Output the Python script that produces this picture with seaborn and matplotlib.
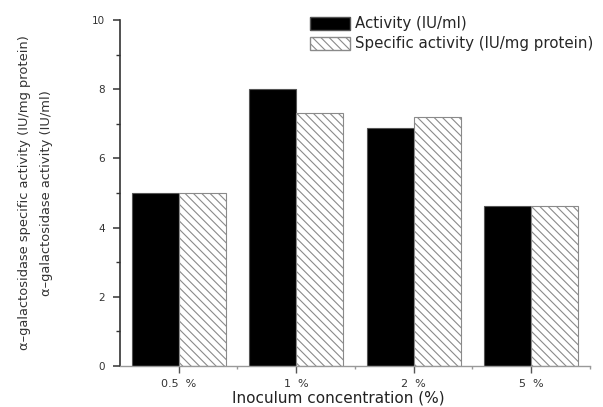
import matplotlib
matplotlib.use("Agg")
import matplotlib.pyplot as plt
import seaborn as sns
import pandas as pd
from matplotlib.ticker import MultipleLocator, FixedLocator
from matplotlib.patches import Patch

categories = ["0.5  %", "1  %", "2  %", "5  %"]
activity = [5.0, 8.0, 6.87, 4.62]
specific_activity = [5.0, 7.32, 7.2, 4.62]
series_names = ["Activity (IU/ml)", "Specific activity (IU/mg protein)"]

df = pd.DataFrame({
    "conc": categories * 2,
    "value": activity + specific_activity,
    "series": [series_names[0]] * 4 + [series_names[1]] * 4,
})

sns.set_style("white")
plt.rcParams["font.family"] = ["DejaVu Sans"]
plt.rcParams["hatch.color"] = "#8a8a8a"
plt.rcParams["hatch.linewidth"] = 0.8

fig = plt.figure(figsize=(6.03, 4.07), dpi=100)
ax = fig.add_axes([0.199, 0.1007, 0.7794, 0.8503])

sns.barplot(data=df, x="conc", y="value", hue="series", order=categories,
            hue_order=series_names, palette=["black", "white"], width=0.8,
            saturation=1, ax=ax, legend=False)

n = len(categories)
for i, p in enumerate(ax.patches[:2 * n]):
    if i < n:
        p.set_facecolor("black")
        p.set_edgecolor("#555555")
        p.set_linewidth(0.8)
    else:
        p.set_facecolor("white")
        p.set_edgecolor("#8a8a8a")
        p.set_linewidth(0.8)
        p.set_hatch("\\\\\\\\")

ax.set_xlim(-0.5, 3.5)
ax.set_ylim(0, 10)
ax.yaxis.set_major_locator(MultipleLocator(2))
ax.yaxis.set_minor_locator(MultipleLocator(1))
ax.xaxis.set_minor_locator(FixedLocator([0.5, 1.5, 2.5, 3.5]))

for s in ["top", "right"]:
    ax.spines[s].set_visible(False)
ax.spines["left"].set_color("#333333")
ax.spines["left"].set_linewidth(1.2)
ax.spines["bottom"].set_color("#999999")
ax.spines["bottom"].set_linewidth(1.0)

ax.tick_params(axis="y", which="major", direction="out", length=5, width=1.1,
               color="#333333", labelsize=7.5, labelcolor="#333333", left=True, pad=6)
ax.tick_params(axis="y", which="minor", direction="out", length=3, width=1.0,
               color="#333333", left=True)
ax.tick_params(axis="x", which="major", direction="out", length=5, width=1.0,
               color="#555555", labelsize=8, labelcolor="#333333", bottom=True, pad=4)
ax.tick_params(axis="x", which="minor", direction="out", length=2, width=1.0,
               color="#999999", bottom=True)

ax.set_xlabel("Inoculum concentration (%)", fontsize=11, color="#222222")
ax.xaxis.set_label_coords(0.464, -0.072)
ax.set_ylabel("α–galactosidase specific activity (IU/mg protein)\n"
              "α–galactosidase activity (IU/ml)", fontsize=9.4,
              linespacing=1.9, color="#333333")
ax.yaxis.set_label_coords(-0.143, 0.5)

handles = [Patch(facecolor="black", edgecolor="#555555", label=series_names[0]),
           Patch(facecolor="white", edgecolor="#8a8a8a", hatch="\\\\\\\\",
                 label=series_names[1])]
ax.legend(handles=handles, loc="upper left", bbox_to_anchor=(0.405, 1.01),
          frameon=False, fontsize=10.8, handlelength=2.65, handleheight=0.95,
          handletextpad=0.35, labelspacing=0.32, borderaxespad=0, borderpad=0)

fig.savefig("out.png", dpi=100)
